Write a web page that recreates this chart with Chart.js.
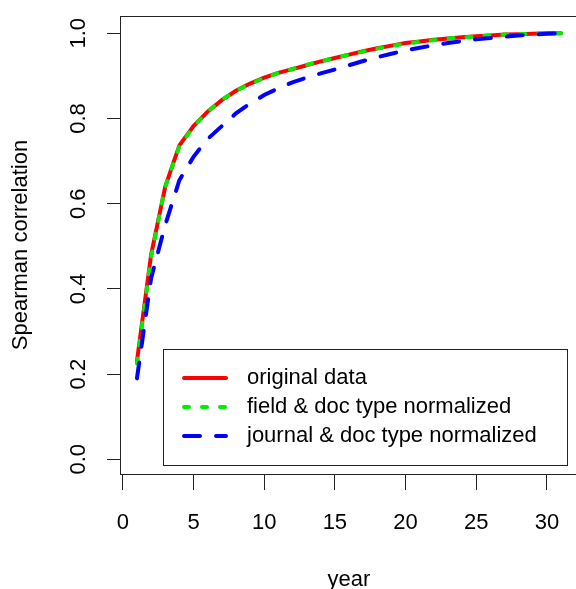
<!DOCTYPE html>
<html>
<head>
<meta charset="utf-8">
<script src="https://cdn.jsdelivr.net/npm/chart.js@4.4.1/dist/chart.umd.min.js"></script>
<style>
html, body { margin: 0; padding: 0; background: #fff; overflow: hidden; }
#wrap { width: 580px; height: 589px; }
</style>
</head>
<body>
<div id="wrap"><canvas id="myChart" width="580" height="589"></canvas></div>
<script>
// data
var years = [1, 2, 3, 4, 5, 6, 7, 8, 9, 10, 11, 12, 13, 14, 15, 16, 17, 18, 19, 20, 21, 22, 23, 24, 25, 26, 27, 28, 29, 30, 31];
var original = [0.23, 0.48, 0.64, 0.737, 0.782, 0.816, 0.843, 0.865, 0.882, 0.896, 0.907, 0.916, 0.925, 0.934, 0.942, 0.950, 0.958, 0.965, 0.971, 0.977, 0.981, 0.985, 0.988, 0.991, 0.993, 0.995, 0.997, 0.998, 0.999, 1.0, 1.0];
var fieldNorm = [0.225, 0.475, 0.64, 0.735, 0.781, 0.816, 0.844, 0.865, 0.881, 0.895, 0.907, 0.916, 0.926, 0.934, 0.942, 0.950, 0.957, 0.964, 0.970, 0.976, 0.980, 0.984, 0.988, 0.990, 0.993, 0.995, 0.997, 0.998, 0.999, 1.0, 1.0];
var journalNorm = [0.19, 0.425, 0.55, 0.655, 0.71, 0.752, 0.782, 0.812, 0.835, 0.855, 0.871, 0.885, 0.896, 0.906, 0.915, 0.925, 0.935, 0.944, 0.952, 0.960, 0.966, 0.972, 0.977, 0.982, 0.986, 0.989, 0.992, 0.995, 0.997, 0.999, 1.0];
var seriesNames = ['original data', 'field & doc type normalized', 'journal & doc type normalized'];
var xTicks = [0, 5, 10, 15, 20, 25, 30];
var yTicks = [0, 0.2, 0.4, 0.6, 0.8, 1.0];

var FONT = '"Liberation Sans", Arial, sans-serif';

function pts(vals) {
  return years.map(function (y, i) { return { x: y, y: vals[i] }; });
}

// box around the plot region (R style)
var boxPlugin = {
  id: 'box',
  afterDraw: function (chart) {
    var a = chart.chartArea, c = chart.ctx;
    c.save();
    c.strokeStyle = '#222';
    c.lineWidth = 1;
    c.strokeRect(a.left + 0.5, a.top + 0.5, a.right - a.left, a.bottom - a.top);
    c.restore();
  }
};

// legend inside the plot, drawn from dataset styles
var legendPlugin = {
  id: 'rLegend',
  afterDraw: function (chart) {
    var c = chart.ctx;
    var x0 = 163, y0 = 349, w = 404, h = 116;
    c.save();
    c.fillStyle = '#fff';
    c.fillRect(x0, y0, w, h);
    c.strokeStyle = '#222';
    c.lineWidth = 1;
    c.strokeRect(x0 + 0.5, y0 + 0.5, w, h);
    c.font = '22px ' + FONT;
    c.textBaseline = 'middle';
    chart.data.datasets.forEach(function (ds, i) {
      var y = 378 + i * 29;
      c.beginPath();
      c.strokeStyle = ds.borderColor;
      c.lineWidth = ds.borderWidth;
      c.lineCap = 'round';
      c.setLineDash(ds.borderDash || []);
      c.moveTo(184, y);
      c.lineTo(226, y);
      c.stroke();
      c.setLineDash([]);
      c.fillStyle = '#000';
      c.fillText(ds.label, 247, y);
    });
    c.restore();
  }
};

var ctx = document.getElementById('myChart').getContext('2d');
var myChart = new Chart(ctx, {
  type: 'line',
  data: {
    datasets: [{
      label: seriesNames[0],
      data: pts(original),
      borderColor: '#ff0000',
      borderWidth: 4,
      borderCapStyle: 'round',
      pointRadius: 0,
      tension: 0,
      order: 3
    }, {
      label: seriesNames[1],
      data: pts(fieldNorm),
      borderColor: '#00ee00',
      borderWidth: 4,
      borderDash: [5, 13],
      borderCapStyle: 'round',
      pointRadius: 0,
      tension: 0,
      order: 2
    }, {
      label: seriesNames[2],
      data: pts(journalNorm),
      borderColor: '#0000ff',
      borderWidth: 4,
      borderDash: [16, 16],
      borderCapStyle: 'round',
      pointRadius: 0,
      tension: 0,
      order: 1
    }]
  },
  options: {
    responsive: false,
    animation: false,
    layout: { padding: { top: 16, right: 2, left: 0, bottom: 0 } },
    plugins: {
      legend: { display: false },
      tooltip: { enabled: false }
    },
    scales: {
      x: {
        type: 'linear',
        min: -0.2,
        max: 32.2,
        afterBuildTicks: function (s) { s.ticks = xTicks.map(function (v) { return { value: v }; }); },
        afterFit: function (s) { s.height = 115; s.paddingLeft = 0; s.paddingRight = 0; },
        border: { display: false },
        grid: { display: true, drawOnChartArea: false, drawTicks: true, tickLength: 16, color: '#222', lineWidth: 1 },
        ticks: { color: '#000', padding: 20, maxRotation: 0, font: { family: FONT, size: 22 } },
        title: { display: true, text: 'year', color: '#000', font: { family: FONT, size: 22 }, padding: { top: 0, bottom: -4 } }
      },
      y: {
        min: -0.0345,
        max: 1.0406,
        afterBuildTicks: function (s) { s.ticks = yTicks.map(function (v) { return { value: v }; }); },
        afterFit: function (s) { s.width = 120; s.paddingTop = 0; s.paddingBottom = 0; },
        border: { display: false },
        grid: { display: true, drawOnChartArea: false, drawTicks: true, tickLength: 13, color: '#222', lineWidth: 1 },
        ticks: {
          color: '#000', padding: 13, minRotation: 90, maxRotation: 90, crossAlign: 'center',
          font: { family: FONT, size: 22 },
          callback: function (v) { return v.toFixed(1); }
        },
        title: { display: true, text: 'Spearman correlation', color: '#000', font: { family: FONT, size: 22 }, padding: { top: 8, bottom: 0 } }
      }
    }
  },
  plugins: [boxPlugin, legendPlugin]
});
</script>
</body>
</html>
